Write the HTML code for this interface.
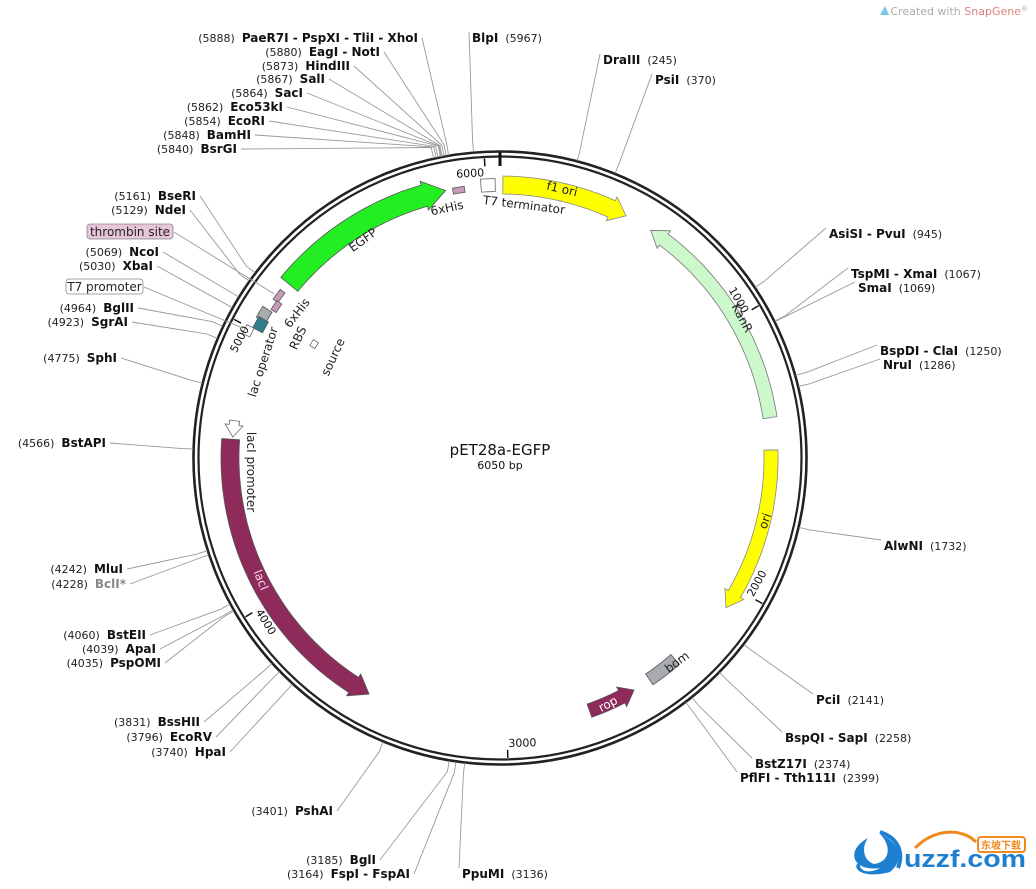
<!DOCTYPE html>
<html><head><meta charset="utf-8">
<style>
html,body{margin:0;padding:0;background:#fff;}
svg{display:block;font-family:"DejaVu Sans","Liberation Sans",sans-serif;}
.n{font-size:11px;fill:#222;}
.b{font-size:12px;font-weight:bold;fill:#111;}
.f{font-size:12px;fill:#222;}
</style></head>
<body>
<svg id="s" width="1036" height="889" viewBox="0 0 1036 889" xmlns="http://www.w3.org/2000/svg">
<text x="1028" y="15" text-anchor="end" style="font-size:11px;fill:#aaa">Created with <tspan fill="#e08080">SnapGene</tspan><tspan font-size="7" dy="-4">®</tspan></text>
<path d="M880 15 l5 -9 l4 9 z" fill="#7cc7e8"/>
<circle cx="500" cy="458" r="306.5" fill="none" stroke="#222" stroke-width="2.6"/>
<circle cx="500" cy="458" r="301.5" fill="none" stroke="#222" stroke-width="2.2"/>
<text x="500" y="455" text-anchor="middle" style="font-size:15px;fill:#111">pET28a-EGFP</text>
<text x="500" y="469" text-anchor="middle" style="font-size:11px;fill:#111">6050 bp</text>
<g id="g"></g>
<!-- logo -->
<path d="M868 838 C 845 850 852 872 880 868 C 870 874 858 872 860 862 C 850 866 860 880 890 872 C 905 860 900 842 880 834 C 892 846 890 862 874 864 C 862 860 862 846 868 838 Z" fill="#1d7fd0"/>
<path d="M880 832 C 898 838 904 852 898 868" fill="none" stroke="#1d7fd0" stroke-width="4"/>
<text x="904" y="867" textLength="122" lengthAdjust="spacingAndGlyphs" style="font-family:'Liberation Sans',sans-serif;font-size:24px;font-weight:bold;fill:#1d7fd0">uzzf.com</text>
<rect x="978" y="837" width="47" height="15" rx="3" fill="#fff" stroke="#f08a1c" stroke-width="2"/>
<text x="1001" y="849" text-anchor="middle" style="font-family:'Noto Sans CJK SC',sans-serif;font-size:10px;font-weight:bold;fill:#f08a1c">东坡下载</text>
<path d="M915 848 C 935 828 962 828 976 842" fill="none" stroke="#f08a1c" stroke-width="3"/>
</svg>
<script>
var NS="http://www.w3.org/2000/svg",G=document.getElementById("g"),CX=500,CY=458,PI=Math.PI;
function ang(bp){return bp/6050*360;}
function P(a,r){var t=a*PI/180;return[CX+r*Math.sin(t),CY-r*Math.cos(t)];}
function ps(a,r){var p=P(a,r);return p[0].toFixed(1)+","+p[1].toFixed(1);}
function el(tag,attrs,txt){var e=document.createElementNS(NS,tag);for(var k in attrs)e.setAttribute(k,attrs[k]);if(txt!=null)e.textContent=txt;G.appendChild(e);return e;}
function arc(a1,a2,r,n){var o=[];for(var i=0;i<=n;i++){o.push(ps(a1+(a2-a1)*i/n,r));}return o;}
function arrow(a1,a2,r,w,dir,fill,stroke,headPx){
 var hd=(headPx||14)/r*180/PI,pts=[],ro=r+w/2,ri=r-w/2,N=40;
 if(dir>0){var b=a2-hd;pts=pts.concat(arc(a1,b,ro,N));pts.push(ps(b,ro+4));pts.push(ps(a2,r));pts.push(ps(b,ri-4));pts=pts.concat(arc(b,a1,ri,N));}
 else if(dir<0){var b=a1+hd;pts=pts.concat(arc(b,a2,ro,N));pts=pts.concat(arc(a2,b,ri,N));pts.push(ps(b,ri-4));pts.push(ps(a1,r));pts.push(ps(b,ro+4));}
 else{pts=pts.concat(arc(a1,a2,ro,N));pts=pts.concat(arc(a2,a1,ri,N));}
 el("polygon",{points:pts.join(" "),fill:fill,stroke:stroke||"#666","stroke-width":0.8});
}
function lab(txt,x,y,rot,cls,col){el("text",{x:x,y:y,"text-anchor":"middle","dominant-baseline":"central",transform:"rotate("+rot+" "+x+" "+y+")",style:"font-size:12px;fill:"+(col||"#222")},txt);}
arrow(0.6,27.5,273,18,1,"#ffff00","#888",16);
arrow(33.5,81.5,273,14,-1,"#ccf8cc","#777",16);
arrow(88.3,123.5,271,14,1,"#ffff00","#888",16);
arrow(150,160.5,268,14,-1,"#8e2b5a","#555",14);
arrow(139,146,267,13,0,"#a8abb0","#555");
arrow(209,274,270,18,-1,"#8e2b5a","#555",18);
arrow(274.5,278,268,10,-1,"#fff","#666",12);
arrow(309.5,348.5,273,22,1,"#22ee22","#555",22);
arrow(350,352.5,271,6,0,"#c89ab8","#555");
arrow(356,359,273,13,0,"#fff","#666");
// small features near 5000-5100
arrow(305,307.5,274,6,0,"#c89ab8","#555");
arrow(303,305.2,270,6,0,"#c89ab8","#555");
arrow(300,302.6,276,11,0,"#a8abb0","#555");
arrow(297.8,300.4,274,11,0,"#2e7e90","#555");
arrow(295.8,297.8,282,8,0,"#fff","#666");
arrow(300.6,302.4,218,6,0,"#fff","#666");
lab("f1 ori",562,189,13);lab("T7 terminator",524,205,7);lab("6xHis",447,208,-12);
lab("EGFP",363,240,-36);lab("KanR",742,318,62);lab("ori",765,521,-70);
lab("lacI",261,580,68,"","#f8d8e8");lab("lacI promoter",251,472,90);
lab("lac operator",263,362,-72);lab("RBS",298,338,-65);lab("6xHis",297,313,-52);
lab("source",333,357,-65);lab("rop",608,704,-28,"","#fff");lab("bom",677,662,-36);
el("line",{x1:500,y1:152,x2:500,y2:166,stroke:"#111","stroke-width":3});
[1000,2000,3000,4000,5000,6000].forEach(function(bp){var a=ang(bp),p1=P(a,300),p2=P(a,292);
 el("line",{x1:p1[0],y1:p1[1],x2:p2[0],y2:p2[1],stroke:"#111","stroke-width":1.5});
 var r=a;if(a>90&&a<270)r=a-180;else if(a>=270)r=a-360;var q=P(a-3,286);
 el("text",{x:q[0],y:q[1],"text-anchor":"middle","dominant-baseline":"central",transform:"rotate("+r.toFixed(1)+" "+q[0].toFixed(1)+" "+q[1].toFixed(1)+")",style:"font-size:11px;fill:#111"},String(bp));});
var S=[
[5888,"L",418,42,"PaeR7I - PspXI - TliI - XhoI"],[5880,"L",380,56,"EagI - NotI"],[5873,"L",350,70,"HindIII"],
[5867,"L",325,83,"SalI"],[5864,"L",303,97,"SacI"],[5862,"L",283,111,"Eco53kI"],[5854,"L",265,125,"EcoRI"],
[5848,"L",251,139,"BamHI"],[5840,"L",237,153,"BsrGI"],
[5967,"R",472,42,"BlpI"],[245,"R",603,64,"DraIII"],[370,"R",655,84,"PsiI"],[945,"R",829,238,"AsiSI - PvuI"],
[1067,"R",851,278,"TspMI - XmaI"],[1069,"R",858,292,"SmaI"],[1250,"R",880,355,"BspDI - ClaI"],[1286,"R",883,369,"NruI"],
[1732,"R",884,550,"AlwNI"],[2141,"R",816,704,"PciI"],[2258,"R",785,742,"BspQI - SapI"],[2374,"R",755,768,"BstZ17I"],
[2399,"R",740,782,"PflFI - Tth111I"],[3136,"R",462,878,"PpuMI"],
[3164,"L",410,878,"FspI - FspAI"],[3185,"L",376,864,"BglI"],[3401,"L",333,815,"PshAI"],
[3831,"L",200,726,"BssHII"],[3796,"L",212,741,"EcoRV"],[3740,"L",226,756,"HpaI"],
[4060,"L",146,639,"BstEII"],[4039,"L",156,653,"ApaI"],[4035,"L",161,667,"PspOMI"],
[4242,"L",123,573,"MluI"],[4228,"L",126,588,"BclI*",1],[4566,"L",106,447,"BstAPI"],[4775,"L",117,362,"SphI"],
[4923,"L",128,326,"SgrAI"],[4964,"L",134,312,"BglII"],[5030,"L",153,270,"XbaI"],[5069,"L",159,256,"NcoI"],
[5129,"L",186,214,"NdeI"],[5161,"L",196,200,"BseRI"]];
S.forEach(function(s){var a=ang(s[0]),p1=P(a,307),p2=P(a,318),sx,sy;
 var t=el("text",{x:s[2],y:s[3],"text-anchor":s[1]=="L"?"end":"start"});
 var num=document.createElementNS(NS,"tspan");num.setAttribute("class","n");num.textContent="("+s[0]+")";
 var nm=document.createElementNS(NS,"tspan");nm.setAttribute("class","b");nm.textContent=s[4];if(s[5])nm.setAttribute("style","fill:#888");
 var sp=document.createElementNS(NS,"tspan");sp.setAttribute("class","n");sp.textContent="\u00a0\u00a0";
 if(s[1]=="L"){t.appendChild(num);t.appendChild(sp);t.appendChild(nm);sx=s[2]+4;sy=s[3]-4;}
 else{t.appendChild(nm);t.appendChild(sp);t.appendChild(num);sx=s[2]-3;sy=s[3]-10;}
 el("polyline",{points:sx+","+sy+" "+p2[0].toFixed(1)+","+p2[1].toFixed(1)+" "+p1[0].toFixed(1)+","+p1[1].toFixed(1),fill:"none",stroke:"#999","stroke-width":0.9});
});
function box(txt,x,y,w,fill,a,r){el("rect",{x:x,y:y,width:w,height:15,rx:3,fill:fill,stroke:"#888","stroke-width":0.8});
 el("text",{x:x+w/2,y:y+12,"text-anchor":"middle",class:"f"},txt);
 var p=P(a,r);el("line",{x1:x+w+1,y1:y+8,x2:p[0],y2:p[1],stroke:"#999","stroke-width":0.9});}
box("thrombin site",87,224,86,"#e6c6d8",306,279);
box("T7 promoter",66,279,77,"#fff",296.8,288);
</script>
</body></html>
